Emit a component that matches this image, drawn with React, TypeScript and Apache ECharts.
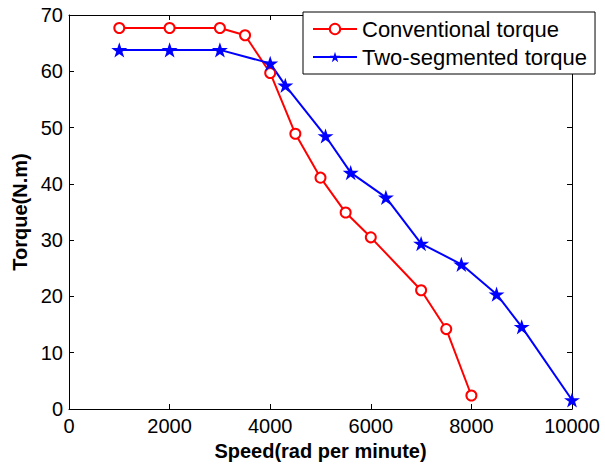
import React, { useEffect, useRef } from "react";
import * as echarts from "echarts";

const convSpeed = [1000, 2000, 3000, 3500, 4000, 4500, 5000, 5500, 6000, 7000, 7500, 8000];
const convTorque = [67.7, 67.7, 67.7, 66.4, 59.7, 48.9, 41.1, 34.9, 30.5, 21.1, 14.2, 2.4];
const twoSpeed = [1000, 2000, 3000, 4000, 4300, 5100, 5600, 6300, 7000, 7800, 8500, 9000, 10000];
const twoTorque = [63.8, 63.8, 63.8, 61.4, 57.5, 48.5, 42.0, 37.6, 29.4, 25.7, 20.4, 14.6, 1.6];
const xTicks = [0, 2000, 4000, 6000, 8000, 10000];
const yTicks = [0, 10, 20, 30, 40, 50, 60, 70];
const seriesNames = ["Conventional torque", "Two-segmented torque"];

const STAR =
  "path://M0,-10 L2.245,-3.09 L9.51,-3.09 L3.633,1.18 L5.88,8.09 L0,3.82 L-5.88,8.09 L-3.633,1.18 L-9.51,-3.09 L-2.245,-3.09 Z";

const FONT = "'Liberation Sans', Arial, sans-serif";

export default function App() {
  const ref = useRef<HTMLDivElement>(null);
  useEffect(() => {
    if (!ref.current) return;
    const chart = echarts.init(ref.current, undefined, { renderer: "svg" });
    const axisCommon = {
      type: "value" as const,
      axisLine: { show: true, onZero: false, lineStyle: { color: "#000", width: 1 } },
      axisTick: { show: true, inside: true, length: 5, lineStyle: { color: "#000" } },
      splitLine: { show: false },
    };
    chart.setOption({
      animation: false,
      backgroundColor: "#fff",
      textStyle: { fontFamily: FONT },
      grid: { left: 69, right: 33, top: 15, bottom: 56, containLabel: false, outerBoundsMode: "none" },
      legend: {
        orient: "vertical",
        left: 303,
        top: 12,
        padding: [6, 8, 6, 9],
        itemGap: 6,
        itemWidth: 44,
        itemHeight: 13,
        borderColor: "#000",
        borderWidth: 1,
        backgroundColor: "#fff",
        textStyle: { fontSize: 22, lineHeight: 22, color: "#000", fontFamily: FONT },
        data: seriesNames,
      },
      xAxis: [
        {
          ...axisCommon,
          min: 0,
          max: 10000,
          interval: 2000,
          position: "bottom",
          name: "Speed(rad per minute)",
          nameLocation: "middle",
          nameGap: 32,
          nameTextStyle: { fontSize: 20, fontWeight: "bold", color: "#000", fontFamily: FONT },
          axisLabel: {
            fontSize: 20,
            color: "#000",
            margin: 7,
            fontFamily: FONT,
            customValues: xTicks,
            formatter: (v: number) => String(v),
          },
        },
        {
          ...axisCommon,
          min: 0,
          max: 10000,
          interval: 2000,
          position: "top",
          axisLabel: { show: false },
        },
      ],
      yAxis: [
        {
          ...axisCommon,
          min: 0,
          max: 70,
          interval: 10,
          position: "left",
          name: "Torque(N.m)",
          nameLocation: "middle",
          nameGap: 39,
          nameTextStyle: { fontSize: 20, fontWeight: "bold", color: "#000", fontFamily: FONT },
          axisLabel: {
            fontSize: 20,
            color: "#000",
            margin: 6,
            fontFamily: FONT,
            customValues: yTicks,
            formatter: (v: number) => String(v),
          },
        },
        {
          ...axisCommon,
          min: 0,
          max: 70,
          interval: 10,
          position: "right",
          axisLabel: { show: false },
        },
      ],
      series: [
        {
          name: seriesNames[0],
          type: "line",
          data: convSpeed.map((s, i) => [s, convTorque[i]]),
          symbol: "emptyCircle",
          symbolSize: 10,
          lineStyle: { color: "#ff0000", width: 2 },
          itemStyle: { color: "#ff0000", borderColor: "#ff0000", borderWidth: 1.5 },
        },
        {
          name: seriesNames[1],
          type: "line",
          data: twoSpeed.map((s, i) => [s, twoTorque[i]]),
          symbol: STAR,
          symbolKeepAspect: true,
          symbolSize: 16,
          lineStyle: { color: "#0000ff", width: 2 },
          itemStyle: { color: "#0000ff", borderColor: "#0000ff", borderWidth: 0 },
        },
      ],
    });
    return () => chart.dispose();
  }, []);
  return <div ref={ref} style={{ width: 605, height: 465, position: "absolute", left: 0, top: 0 }} />;
}
